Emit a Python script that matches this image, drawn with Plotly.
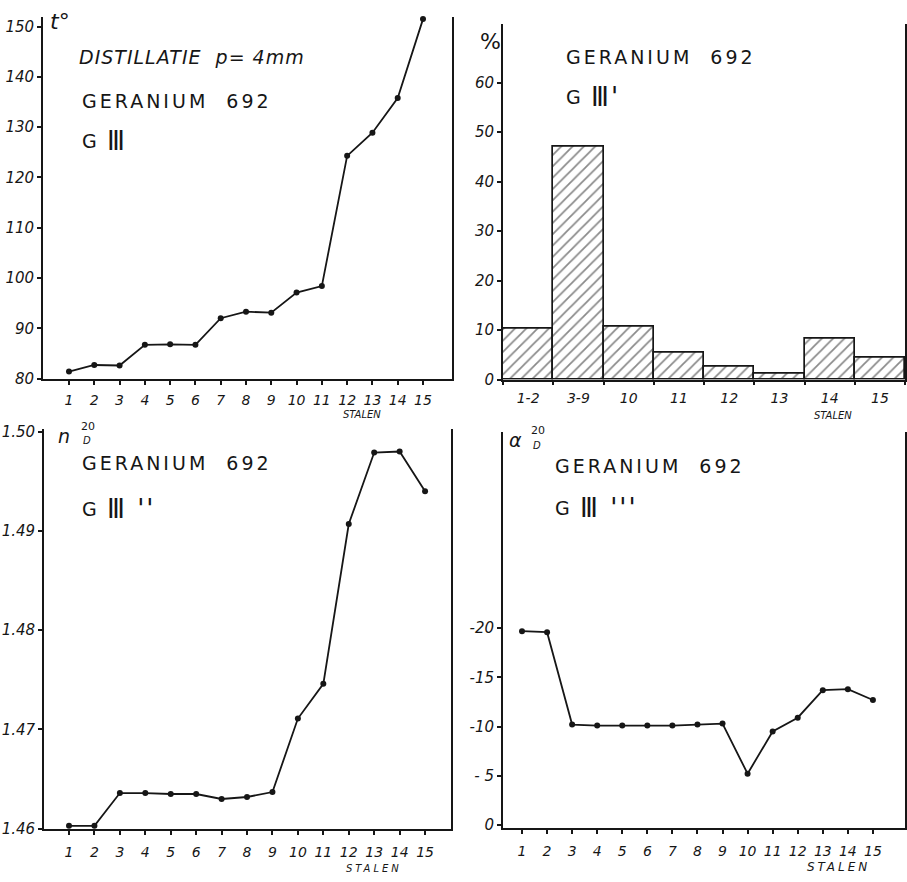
import plotly.graph_objects as go

# ---------------- data ----------------
stalen = list(range(1, 16))

# panel 1: distillation temperature (t °C)
temp_t = [81.4, 82.7, 82.6, 86.7, 86.8, 86.7, 92.0, 93.3, 93.1, 97.1, 98.4, 124.3, 128.9, 135.8, 151.5]
temp_ticks = [80, 90, 100, 110, 120, 130, 140, 150]

# panel 2: percentage per fraction group
frac_labels = ["1-2", "3-9", "10", "11", "12", "13", "14", "15"]
frac_pct = [10.2, 47.0, 10.6, 5.4, 2.5, 1.2, 8.3, 4.4]
pct_ticks = [0, 10, 20, 30, 40, 50, 60]

# panel 3: refractive index n20D
refr_n = [1.4603, 1.4603, 1.4636, 1.4636, 1.4635, 1.4635, 1.4630, 1.4632, 1.4637,
          1.4711, 1.4746, 1.4907, 1.4979, 1.4980, 1.4940]
refr_ticks = [1.46, 1.47, 1.48, 1.49, 1.50]

# panel 4: optical rotation alpha20D
rot_a = [-19.7, -19.6, -10.2, -10.1, -10.1, -10.1, -10.1, -10.2, -10.3,
         -5.2, -9.5, -10.9, -13.7, -13.8, -12.7]
rot_ticks = [0, -5, -10, -15, -20]
rot_ticktext = ["0", "- 5", "-10", "-15", "-20"]

# ---------------- styling ----------------
W, H = 907, 882
INK = "#161616"
FONT = "DejaVu Sans"
tickfont = dict(family=FONT, size=15, color=INK, style="italic")
xtickfont = dict(family=FONT, size=14, color=INK, style="italic")

def px(x):
    return x / W

def py(y):
    return 1 - y / H

fig = go.Figure()

line_style = dict(color=INK, width=1.8)
marker_style = dict(color=INK, size=6)

fig.add_trace(go.Scatter(x=stalen, y=temp_t, mode="lines+markers", line=line_style,
                         marker=marker_style, xaxis="x", yaxis="y", cliponaxis=False,
                         showlegend=False))
fig.add_trace(go.Bar(x=frac_labels, y=frac_pct, xaxis="x2", yaxis="y2", showlegend=False,
                     marker=dict(color="white", line=dict(color=INK, width=1.7),
                                 pattern=dict(shape="/", fgcolor=INK, bgcolor="white",
                                              size=8, solidity=0.22))))
fig.add_trace(go.Scatter(x=stalen, y=refr_n, mode="lines+markers", line=line_style,
                         marker=marker_style, xaxis="x3", yaxis="y3", cliponaxis=False,
                         showlegend=False))
fig.add_trace(go.Scatter(x=stalen, y=rot_a, mode="lines+markers", line=line_style,
                         marker=marker_style, xaxis="x4", yaxis="y4", cliponaxis=False,
                         showlegend=False))

axis_common = dict(showgrid=False, zeroline=False, showline=True, linecolor=INK,
                   linewidth=1.9, ticks="outside", ticklen=4, tickwidth=1.5,
                   tickcolor=INK)

fig.update_layout(
    width=W, height=H,
    margin=dict(l=0, r=0, t=0, b=0),
    paper_bgcolor="white", plot_bgcolor="white",
    bargap=0,
    xaxis=dict(axis_common, domain=[px(43), px(452)], range=[-0.028, 16.147],
               tickvals=stalen, tickfont=xtickfont, anchor="y", ticklabelstandoff=4),
    yaxis=dict(axis_common, domain=[py(379), py(11)], range=[80, 151.96],
               tickvals=temp_ticks, tickfont=tickfont, anchor="x", mirror=True),
    xaxis2=dict(axis_common, domain=[px(503), px(905)], range=[-0.5, 7.5],
                type="category", tickson="boundaries", tickfont=xtickfont,
                anchor="y2", ticklabelstandoff=5),
    yaxis2=dict(axis_common, domain=[py(380), py(18)], range=[0, 71.9],
                tickvals=pct_ticks, tickfont=tickfont, anchor="x2", mirror=True),
    xaxis3=dict(axis_common, domain=[px(44), px(451)], range=[0.017, 16.02],
                tickvals=stalen, tickfont=xtickfont, anchor="y3", ticklabelstandoff=5),
    yaxis3=dict(axis_common, domain=[py(837), py(430)], range=[1.46, 1.5003],
                tickvals=refr_ticks, tickformat=".2f", tickfont=tickfont,
                anchor="x3", mirror=True),
    xaxis4=dict(axis_common, domain=[px(503), px(905)], range=[0.242, 16.28],
                tickvals=stalen, tickfont=xtickfont, anchor="y4", ticklabelstandoff=5),
    yaxis4=dict(axis_common, domain=[py(836), py(433)], range=[0.3, -40],
                tickvals=rot_ticks, ticktext=rot_ticktext, tickfont=tickfont,
                anchor="x4", mirror=True),
)

SP = '<span style="letter-spacing:{}px">{}</span>'

def note(text, x, y, size=19, italic=False, anchor="left", spacing=None):
    if spacing:
        text = SP.format(spacing, text)
    fig.add_annotation(text=text, x=px(x), y=py(y), xref="paper", yref="paper",
                       xanchor=anchor, yanchor="middle", showarrow=False,
                       font=dict(family=FONT, size=size, color=INK,
                                 style="italic" if italic else "normal"))

def g3(x, y, primes=""):
    note("G", x, y)
    note("\u2162" + primes, x + 25, y, size=26, spacing=2)

# panel 1
note("t°", 48, 16, size=22, italic=True)
note("DISTILLATIE  p= 4mm", 77, 52, italic=True, spacing=1)
note("GERANIUM  692", 80, 97, spacing=3)
g3(80, 137)
note("STALEN", 362, 416, size=10, italic=True, anchor="center")

# panel 2
note("%", 478, 36, size=22)
note("GERANIUM  692", 564, 52, spacing=3)
g3(564, 93, "'")
note("STALEN", 833, 417, size=10, italic=True, anchor="center")

# panel 3
note("n", 56, 437, size=19, italic=True)
note("20", 79, 428, size=11)
note("D", 81, 442, size=10, italic=True)
note("GERANIUM  692", 80, 465, spacing=3)
g3(80, 512, " ''")
note("STALEN", 374, 877, size=10, italic=True, anchor="center", spacing=3)

# panel 4
note("α", 507, 442, size=19, italic=True)
note("20", 529, 432, size=11)
note("D", 531, 447, size=10, italic=True)
note("GERANIUM  692", 553, 468, spacing=3)
g3(553, 511, " '''")
note("STALEN", 838, 876, size=12, italic=True, anchor="center", spacing=3)

fig.write_html("out.html")
